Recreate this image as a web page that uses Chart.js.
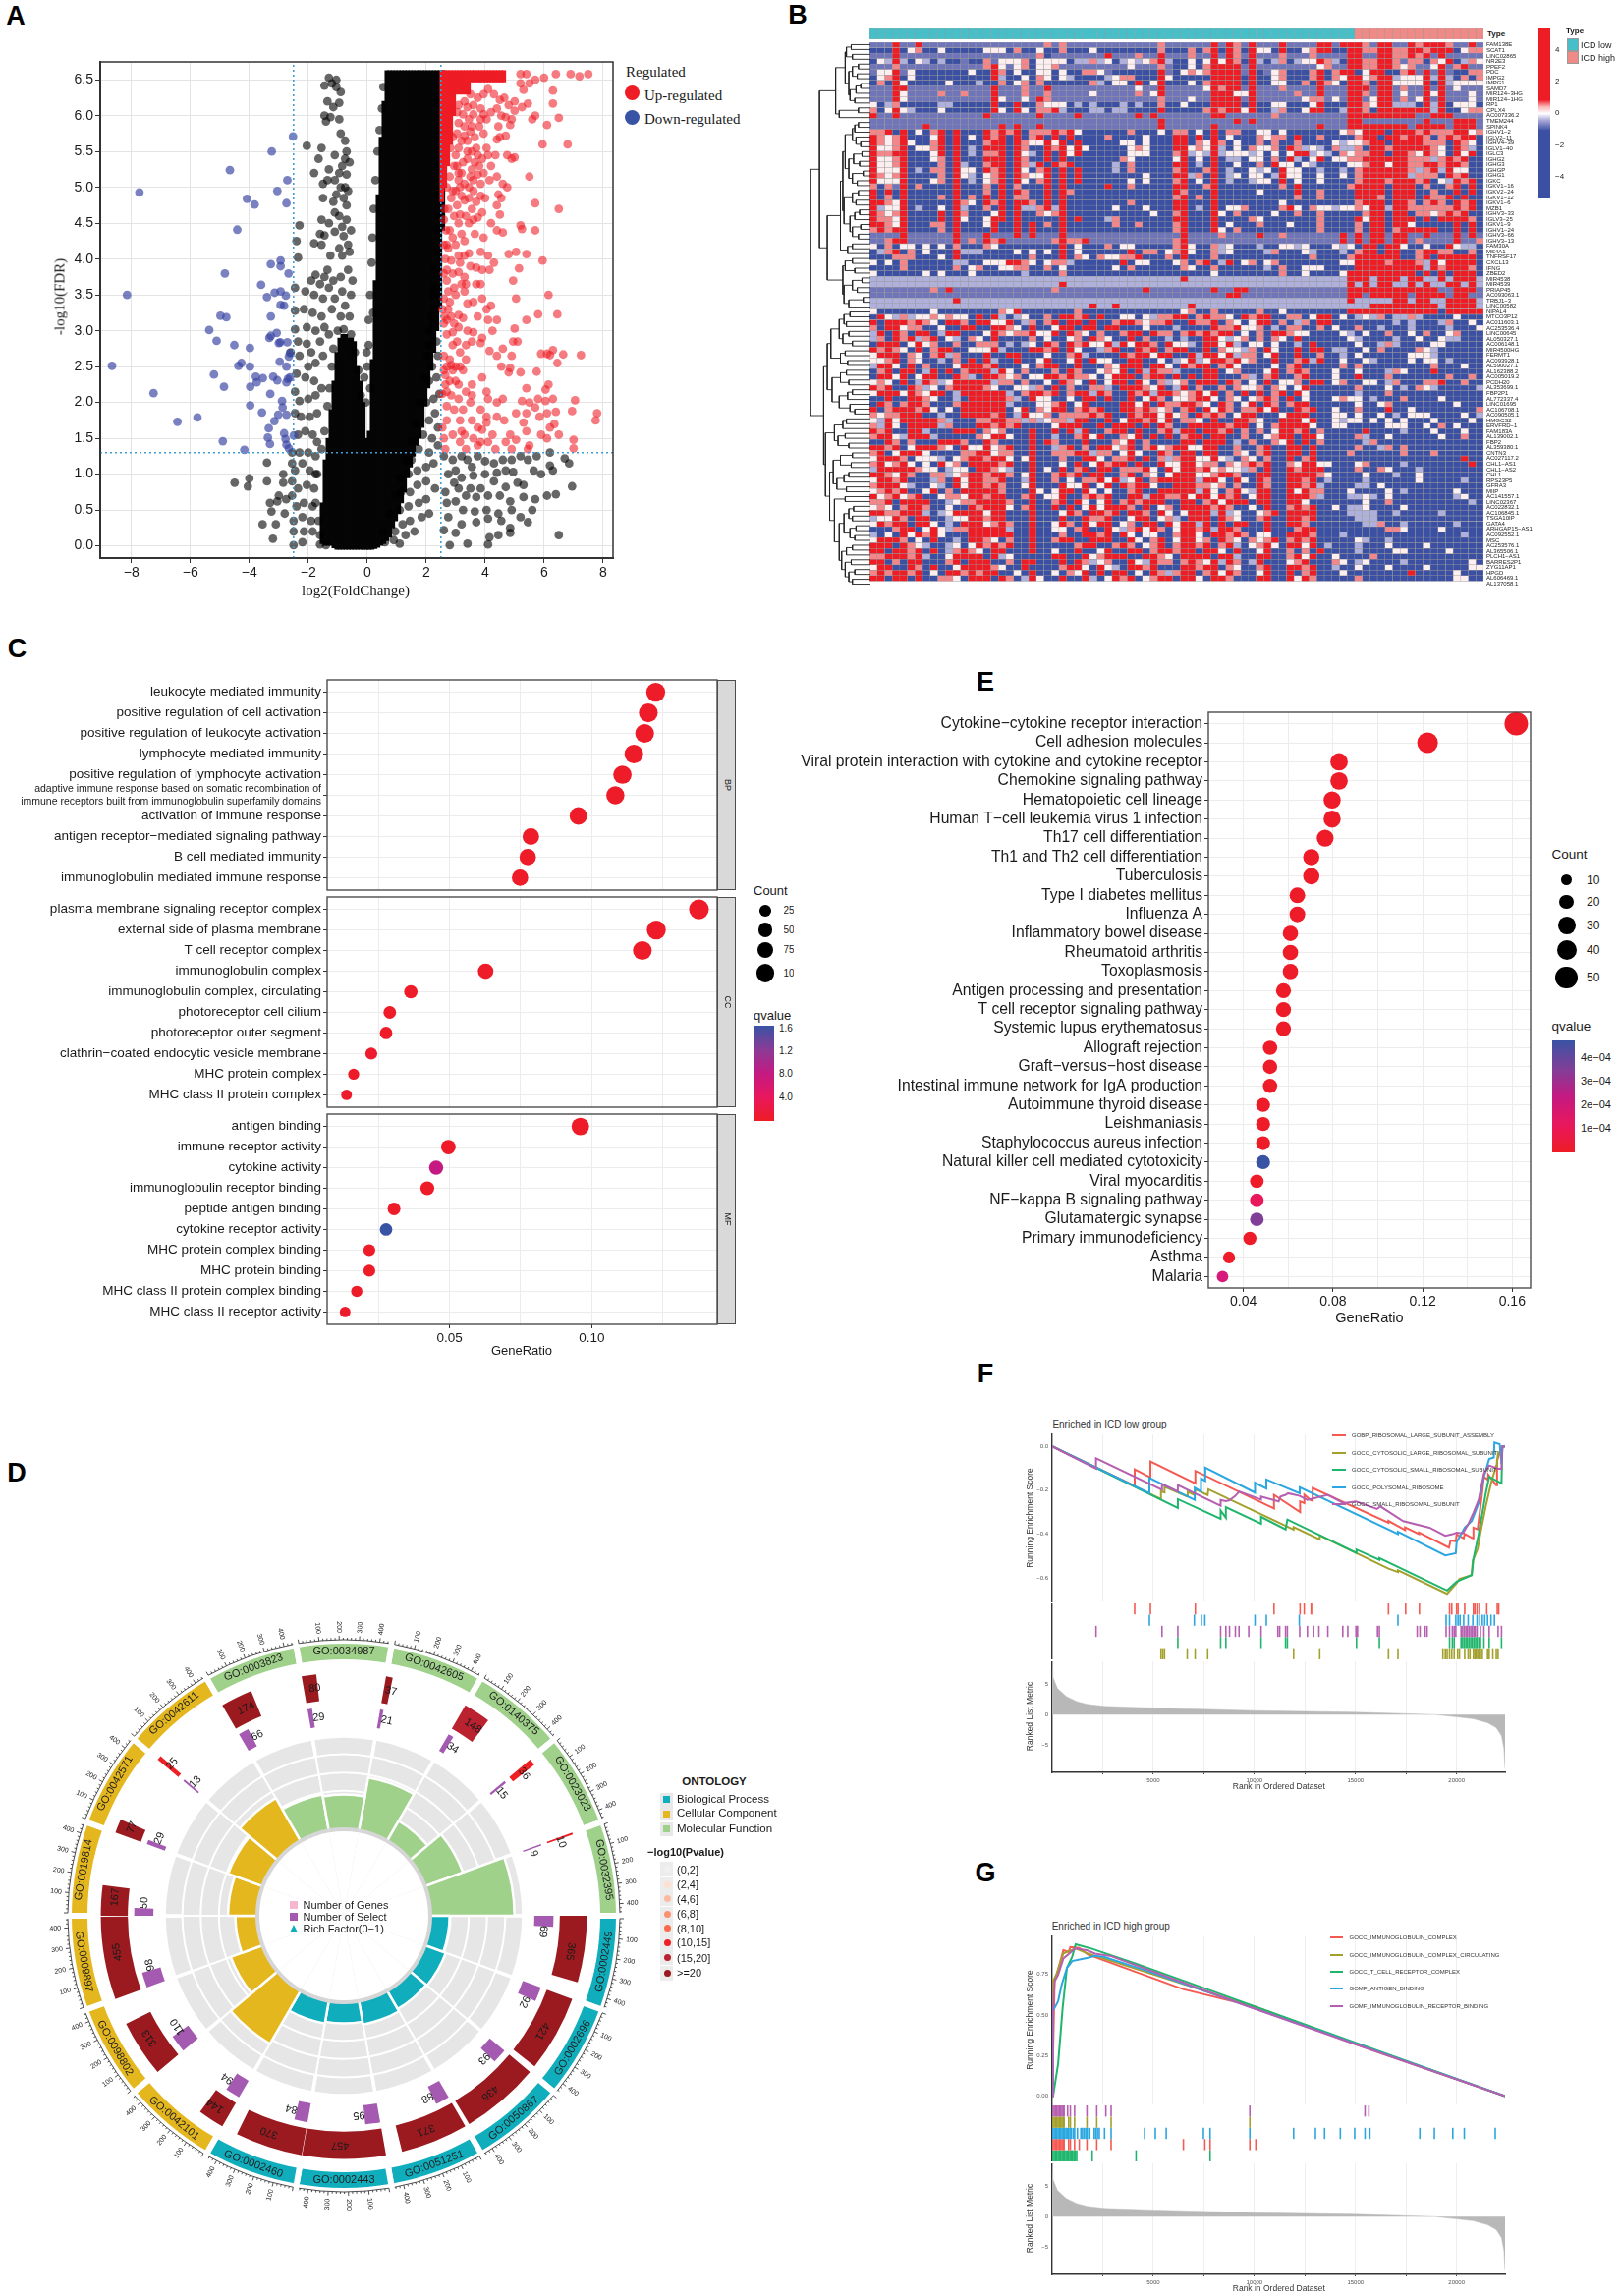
<!DOCTYPE html>
<html>
<head>
<meta charset="utf-8">
<title>ICD figure</title>
<script src="https://cdn.jsdelivr.net/npm/chart.js@4/dist/chart.umd.js"></script>
<style>
html, body { margin: 0; padding: 0; background: #fff; }
body { position: relative; width: 1649px; height: 2337px; overflow: hidden; font-family: "Liberation Sans", sans-serif; color: #1a1a1a; }
canvas { position: absolute; }
.t { position: absolute; white-space: nowrap; line-height: 1; }
.box { position: absolute; }
</style>
</head>
<body>
<script>
// ---------- panel A: volcano ----------
const volcanoUp = [[5.2,6.58],[5.4,6.58],[5.2,6.45],[5.5,6.45],[5.7,6.5],[6,6.53],[6.4,6.58],[6.9,6.58],[7.2,6.55],[7.5,6.58],[6.3,6.35],[5.3,6.36],[6.3,6.17],[6.5,5.97],[6.1,5.87],[5.7,6],[5.6,5.95],[5.45,6.17],[5.25,6.12],[5,6.07],[5,6.2],[4.8,6.15],[4.65,6.25],[4.5,6.22],[4.3,6.3],[4.1,6.37],[3.95,6.3],[3.75,6.25],[3.5,6.3],[5.95,5.6],[6.8,5.6],[5,5.42],[4.9,5.4],[4.75,5.45],[5.5,5.15],[5.7,4.78],[6.5,4.7],[5.2,4.47],[5.25,4.42],[5.7,4.4],[4.6,4.37],[4.4,4.4],[4.2,4.5],[5.4,4.07],[5.95,3.98],[5.05,4.1],[4.8,4.07],[5.15,3.87],[4.95,3.7],[6.15,3.5],[6.45,3.23],[5.05,3.45],[5.4,3.15],[5.8,3.23],[5,3.03],[4.95,2.85],[5.1,2.85],[6.45,2.55],
[6.3,2.73],[6.1,2.68],[5.9,2.68],[6.65,2.67],[7.25,2.66],[6.2,2.66],[4.9,2.65],[4.6,2.75],[4.4,2.65],[4.15,2.72],[4.85,2.48],[4.55,2.5],[4.8,2.42],[5.2,2.42],[5.75,2.43],[6.15,2.25],[6.05,2.18],[5.4,2.2],[5.25,2.02],[5.5,2],[5.8,2.05],[6.05,2.02],[6.3,2.05],[7.05,2.03],[6.4,1.87],[6.95,1.88],[7.8,1.85],[7.75,1.75],[5.7,1.93],[5.85,1.8],[6.1,1.85],[5.4,1.85],[5.05,1.85],[4.6,2.05],[4.4,2],[4.05,2.15],[4.1,2.05],[3.9,2.35],[3.55,2.25],[3.35,2.15],[3.1,2.25],[2.8,2.3],[2.7,2.15],
[2.55,2.12],[2.85,2.1],[3.1,2.05],[3.5,2],[3.85,1.9],[4.05,1.8],[4.05,1.72],[4.4,1.8],[4.65,1.75],[5.3,1.72],[5.4,1.6],[5.9,1.55],[6.2,1.65],[6.35,1.7],[6.5,1.55],[7,1.48],[7,1.36],[6.1,1.5],[5.5,1.4],[5.05,1.48],[4.85,1.55],[4.7,1.45],[4.25,1.55],[4.1,1.45],[3.9,1.62],[3.75,1.65],[3.55,1.75],[3.3,1.55],[3.15,1.45],[2.9,1.55],[2.7,1.75],[2.6,1.5],[2.55,1.65],[3.2,1.6],[3.75,1.4],[4.35,1.35],[4.9,1.35],[5.45,1.35],
[2.6,2.45],[2.7,2.5],[2.85,2.52],[3,2.5],[3.15,2.5],[2.65,2.38],[3.25,2.45],[3.35,2.6],[2.9,2.8],[3.05,2.85],[3.35,2.8],[3.55,2.85],[3.85,2.83],[3.9,2.9],[2.6,3.1],[2.7,3.15],[2.85,3.2],[2.95,3.1],[3.1,3.22],[3.25,3.18],[3.4,3],[3.6,2.98],[3.75,3.2],[4.05,3.3],[4.1,3.15],[4.25,3],[4.4,3.15],[4.2,3.35],[3.9,3.45],[3.6,3.4],[3.3,3.55],[3,3.5],[2.75,3.55],[2.6,3.45],[2.55,3.3],[3.35,3.65],[3.7,3.65],[3.85,3.65],
[2.7,3.85],[2.9,3.8],[3.1,3.82],[3.3,3.75],[3.5,3.9],[3.15,3.95],[2.85,3.98],[2.65,4],[3.45,4.08],[3.7,3.88],[3.9,3.85],[4.15,3.85],[4.3,3.95],[3.85,4.1],[4.1,4.05],[2.7,4.2],[3,4.2],[3.3,4.25],[3.65,4.35],[3.95,4.3],[2.8,4.4],[3.1,4.5],[3.45,4.5],[3.75,4.58],[2.6,4.55],[3.55,4.7],[3.9,4.65],[2.75,4.7],[3.05,4.75],[3.3,4.82],[3.7,4.8],[4,4.85],[4.4,4.75],[4.5,4.62],[4.55,4.85],
[3.15,5],[3.45,5],[3.6,5.1],[3.85,5.05],[4.15,5.1],[4.4,5.15],[4.6,5.05],[4.75,5],[4.45,4.9],[3.2,5.2],[3.55,5.25],[3.8,5.3],[3.95,5.2],[4.2,5.3],[4.35,5.45],[4.1,5.45],[4.05,5.55],[3.55,5.5],[3.25,5.35],[3,5.45],[3.4,5.65],[3.7,5.55],[3.9,5.4],[2.9,5.7],[3.2,5.65],[3.65,5.7],[3.95,5.75],[4.4,5.67],[4.5,5.7],[4.7,5.72],[4.85,5.87],[4.45,5.85],[4.05,5.95],[3.8,5.85],[3.45,5.95],[3.1,5.9],[4.55,6],[4.2,6.05],[3.85,6.1],[3.4,6.12],[3.1,6.15],[4.7,5.98],[4.9,5.95],[4.4,6.1],
[2.62,5.8],[2.65,5.4],[2.7,5],[2.62,4.7],[2.68,4.4],[2.75,4.15],[2.6,4.2],[2.7,3.7],[2.6,3.8],[2.8,3.4],[2.62,3.2],[2.7,2.95],[2.6,2.65],[2.8,2.6],[2.9,2.45],[2.95,5.3],[2.9,4.95],[3.1,5.2],[2.95,4.6],[3.2,4.35],
[3.3,6.2],[3.6,6.15],[3.05,6.05],[3.25,6.02],[3.6,6.02],[3.95,6.02],[3.3,5.85],[3.55,5.85],[3.85,5.95],[3.05,5.75],[3.3,5.72],[3.5,5.78],[3.1,5.55],[3.4,5.5],[3.75,5.45],[3.05,5.3],[3.4,5.4],[3.65,5.35],[3.1,5.1],[3.3,5.05],[3.5,5.15],[3.75,5.18],[3,4.95],[3.2,4.88],[3.45,4.85],[3.6,4.95],[3.85,4.88],[2.85,4.85],[2.8,5.15],[2.82,5.55],[3.15,4.62],[3.35,4.6],[3.6,4.55],[2.9,4.3],[3.1,4.05],[3.3,4.05],[2.95,3.6],[3.2,3.65],[3.4,3.38],[2.75,3.3],[2.9,2.98],[3.1,3.05],[3.15,2.7],[2.65,2.25],[3,2.3],[2.7,1.95],[2.95,1.9],[3.25,1.9],[3.55,2.1],[3.35,1.35],[3.6,1.5],[2.65,1.35],[3.15,1.75],[3.85,1.45]];
const volcanoDown = [[-2.52,5.71],[-3.24,5.5],[-4.66,5.24],[-7.73,4.93],[-2.71,5.1],[-3.05,4.95],[-4.08,4.84],[-3.82,4.76],[-2.74,4.78],[-4.41,4.41],[-3.27,3.93],[-2.94,3.98],[-2.94,3.9],[-4.83,3.8],[-2.67,3.8],[-3.6,3.64],[-3.14,3.53],[-2.94,3.55],[-3.4,3.47],[-2.76,3.49],[-8.15,3.5],[-2.94,3.36],[-2.82,3.35],[-4.98,3.21],[-4.78,3.19],[-3.27,3.2],[-5.36,3.01],[-5.11,2.86],[-3.07,2.97],[-3.27,2.93],[-3.32,2.9],[-3,2.83],[-2.95,2.84],[-2.71,2.84],[-4.51,2.8],[-3.98,2.76],[-2.62,2.69],[-2.66,2.64],[-8.66,2.51],[-4.27,2.55],[-4.37,2.51],[-3.98,2.5],[-2.97,2.57],[-2.74,2.5],[-5.2,2.39],[-3.78,2.36],[-3.54,2.34],[-3.19,2.36],[-3.75,2.28],[-3.05,2.31],[-2.74,2.28],[-2.62,2.35],[-2.69,2.33],[-4.86,2.22],[-3.97,2.22],[-7.25,2.13],[-3.29,2.12],[-2.89,2.02],[-3.97,1.96],[-2.87,1.93],[-3.57,1.86],[-3.02,1.83],[-2.74,1.83],[-5.76,1.79],[-6.44,1.73],[-3.15,1.74],[-3.34,1.64],[-2.82,1.57],[-2.49,1.54],[-3.37,1.51],[-2.77,1.49],[-4.9,1.46],[-3.3,1.42],[-2.74,1.41],[-4.17,1.34],[-2.66,1.36]];
const volcanoNs = [[-1.3,6.53],[-1.05,6.5],[-1.45,6.42],[-1.2,6.45],[-1.05,6.4],[-.9,6.33],[-1.35,6.2],[-1.15,6.12],[-.95,6.18],[-1.45,6],[-1.25,5.98],[-.95,5.95],[-1.4,5.92],[-.9,5.75],[-.75,5.65],[-1.55,5.55],[-2.05,5.58],[-1.65,5.4],[-.7,5.5],[-1.1,5.45],[-.75,5.4],[-.85,5.3],[-.6,5.35],[-1.3,5.25],[-1.8,5.2],[-1.35,5.1],[-1.5,5.05],[-.95,5.2],[-.7,5.18],[-1.1,5.1],[-.9,5],[-.75,5],[-1.05,4.9],[-.65,4.95],[-1.5,4.85],[-1.15,4.8],[-.8,4.85],[-.7,4.75],[-1.55,4.55],[-1.3,4.5],[-.95,4.6],[-.7,4.55],[-.85,4.45],[-1.1,4.65],[-.55,4.4],[-2.3,4.47],[-2.4,4.25],[-1.6,4.35],[-1.45,4.33],[-1.1,4.38],[-.8,4.32],[-.65,4.2],[-1.8,4.22],[-1.55,4.2],[-.95,4.15],[-1.25,4.05],[-.85,4.05],[-.6,4.1],[-2.35,4.02],[-1.35,3.85],[-1.45,3.75],[-1.75,3.78],[-1.9,3.7],[-1.15,3.7],[-.9,3.75],[-.65,3.85],[-.5,3.7],[-1.6,3.65],[-1.3,3.6],[-.85,3.55],[-.55,3.5],[-2.45,3.6],[-2.1,3.55],[-1.8,3.5],[-1.5,3.45],[-1.1,3.45],[-.75,3.35],
[-2.45,3.28],[-2.15,3.3],[-1.85,3.25],[-1.55,3.2],[-1.2,3.3],[-.9,3.2],[-.6,3.2],[-2.45,3.02],[-2.05,3.05],[-1.75,3],[-1.45,3.05],[-1.3,2.95],[-2.35,2.85],[-2.05,2.82],[-1.9,2.7],[-1.6,2.85],[-2.6,2.7],[-2.3,2.65],[-2,2.5],[-1.75,2.55],[-1.5,2.65],[-2.4,2.4],[-2.1,2.35],[-1.8,2.3],[-1.55,2.2],[-2.45,2.15],[-2.3,2.02],[-2,2.05],[-1.75,2.1],[-2.45,1.85],[-2.25,1.8],[-1.95,1.8],[-1.7,1.85],[-2.35,1.55],[-2.1,1.6],[-1.85,1.55],[-1.7,1.45],[-2.55,1.3],[-2.3,1.3],[-2,1.3],[-1.75,1.25],[-3.4,1.16],[-2.55,1.15],[-2.45,1.05],[-2.2,1.15],[-1.95,1.05],[-1.75,1],[-4.0,.94],[-2.85,1],[-4.5,.88],[-3.4,.9],[-4.05,.83],[-2.85,.88],[-2.55,.9],[-2.35,.8],[-2.05,.85],[-1.8,.8],[-3.0,.7],[-2.55,.7],[-3.3,.6],[-3.05,.62],[-2.75,.65],[-2.4,.55],[-2.15,.6],[-1.85,.55],[-3.25,.48],[-2.8,.45],[-2.5,.35],[-2.2,.4],[-1.9,.35],[-3.55,.3],[-3.1,.3],[-2.5,.2],[-2.15,.2],[-1.85,.2],[-3.2,.1],[-2.5,.01],[-2.2,.05],[-1.6,.02],[-1.4,.01],
[.2,3.25],[.05,2.8],[0,2.5],[-.1,2.35],[.1,2.2],[-.05,2],[2.4,4.4],[2.3,3.85],[2.25,3.5],[2.3,3.3],[2.25,3.1],[2.1,3],[2.35,2.85],[2.4,2.65],[2.05,2.65],[2.2,2.5],[2.35,2.35],[2.1,2.3],[2.45,2.12],[2.25,2.05],[2,2],[2.3,1.85],[2.1,1.75],[2.4,1.65],[2.2,1.5],[1.9,1.55],[2.4,1.4],[2.1,1.3],[1.75,1.35],[1.5,1.2],[2,1.1],[2.25,1.15],[1.7,1.05],[1.4,1],[2,.9],[1.7,.85],[2.3,.8],[1.45,.75],[1.15,.75],[2,.65],[1.75,.6],[1.4,.55],[1.1,.5],[2.1,.45],[1.85,.4],[1.45,.35],[1.2,.3],[.95,.2],[1.6,.2],[1.3,.15],[.9,.08],[.6,.05],[1.1,.03],
[2.6,1.25],[2.9,1.2],[3,1.05],[3.2,1.25],[3.4,1.2],[3.55,1.1],[3.75,1.25],[4,1.18],[4.3,1.15],[4.6,1.2],[4.9,1.2],[5.2,1.25],[5.45,1.2],[5.75,1.25],[6.2,1.3],[6.7,1.22],[6.85,1.15],[6.2,1.12],[6.3,1.05],[5.9,1],[5.65,1.05],[4.95,1.03],[4.7,1.05],[4.4,1.02],[4,1],[3.6,.98],[3.2,.95],[2.75,1.0],[2.95,.88],[2.65,.75],[3.1,.8],[3.5,.8],[3.85,.8],[4.3,.9],[4.7,.82],[5.1,.88],[5.3,.85],[6.95,.83],[6.4,.72],[6.1,.7],[5.7,.65],[5.3,.68],[4.85,.62],[4.5,.7],[4.1,.7],[3.7,.68],[3.35,.7],[3,.62],[2.7,.6],[3.25,.5],[3.65,.48],[4.05,.5],[4.45,.45],[4.9,.5],[5.2,.4],[5.6,.5],[5.45,.33],[4.85,.25],[4.55,.35],[4.1,.38],[3.7,.33],[3.2,.3],[2.75,.4],[2.6,.22],[3,.18],[4.15,.12],[4.45,.15],[4.85,.18],[3.4,.03],[2.8,.01],[4.1,.02],[6.5,.15],
[.55,6.4],[.5,6.1],[.42,5.8],[.35,5.5],[.28,5.1],[.22,4.7],[.18,4.3],[.15,3.95],[.1,3.5],[.05,3.15],[-.02,2.7],[2.42,6.2],[2.45,5.8],[2.45,5.3],[2.42,4.9],[2.4,4.6],[2.38,4.1],[2.3,3.6],[2.2,3.2],[2.1,2.8],[1.95,2.35],[1.8,2],[1.65,1.7],[1.5,1.45],[1.3,1.2],[1.1,.95],[.95,.7],[.75,.45],[.55,.2],[-1.7,1],[-1.75,.6],[-1.65,.35],[-1.6,.15],[-1.55,1.35],[-1.45,1.6],[-1.35,1.95],[-1.28,2.2],[-1.2,2.5],[-1.15,2.75],[-1,3],[-.8,3.02],[-.55,2.95],[-.42,2.7],[-.3,2.45],[-.22,2.1]];
const volcanoMassColumns = [[-1.6,.03,.6],[-1.5,0,1.2],[-1.4,0,1.5],[-1.3,0,1.9],[-1.2,-.03,2.3],[-1.1,-.05,2.7],[-1,-.05,2.9],[-.9,-.05,2.95],[-.8,-.05,2.95],[-.7,-.05,2.9],[-.6,-.05,2.9],[-.5,-.05,2.85],[-.4,-.05,2.5],[-.3,-.05,2.3],[-.2,-.05,2],[-.1,-.05,1.5],[0,-.05,1.6],[.1,-.05,2.6],[.2,-.04,3.7],[.3,-.02,4.9],[.4,0,5.7],[.5,.03,6.2],[.6,.07,6.63],[.7,.12,6.63],[.8,.25,6.63],[.9,.35,6.63],[1,.45,6.63],[1.1,.6,6.63],[1.2,.75,6.63],[1.3,.95,6.63],[1.4,1.1,6.63],[1.5,1.25,6.63],[1.6,1.4,6.63],[1.7,1.5,6.63],[1.8,1.65,6.63],[1.9,1.95,6.63],[2,2.2,6.63],[2.1,2.45,6.63],[2.2,2.7,6.63],[2.3,3,6.63],[2.4,3.3,6.63],[2.5,4.4,6.63]];
const volcanoUpColumns = [[2.6,4.8,6.63],[2.7,5,6.63],[2.8,5.3,6.63],[2.9,5.6,6.63],[3,6,6.63],[3.1,6.3,6.63],[3.2,6.3,6.63],[3.3,6.3,6.63],[3.4,6.3,6.63],[3.5,6.3,6.63],[3.6,6.47,6.63],[3.7,6.47,6.63],[3.8,6.47,6.63],[3.9,6.47,6.63],[4,6.47,6.63],[4.1,6.47,6.63],[4.2,6.47,6.63],[4.3,6.47,6.63],[4.4,6.47,6.63],[4.5,6.47,6.63],[4.6,6.47,6.63],[4.7,6.47,6.63]];
const volcanoXTicks = [-8,-6,-4,-2,0,2,4,6,8];
const volcanoYTicks = [0,.5,1,1.5,2,2.5,3,3.5,4,4.5,5,5.5,6,6.5];
const fdrCutoff = 1.3, foldCutoff = 2.5;

// ---------- panel B: heatmap ----------
const heatGenes = ['FAM138E','SCAT1','LINC02865','NR2E3','PPEF2','PDC','IMPG2','IMPG1','SAMD7','MIR124−3HG','MIR124−1HG','RP1','CPLX4','AC007336.2','TMEM244','SPINK4','IGHV1−2','IGLV2−11','IGHV4−39','IGLV1−40','IGLC3','IGHG2','IGHG3','IGHGP','IGHG1','IGKC','IGKV1−16','IGKV2−24','IGKV1−12','IGKV1−6','MZB1','IGHV3−33','IGLV3−25','IGKV1−9','IGHV1−24','IGHV3−66','IGHV3−13','FAM30A','MS4A1','TNFRSF17','CXCL13','IFNG','ZBED2','MIR4538','MIR4539','PRIAP45','AC093063.1','TRBJ1−3','LINC00582','NIPAL4','MTCO3P12','AC011603.1','AC253536.4','LINC00645','AL050327.1','AC006148.1','MIR4500HG','FERMT1','AC093928.1','AL590027.1','AL162388.2','AC005019.2','PCDH20','AL353699.1','FBP2P1','AL772337.4','LINC01695','AC106708.1','AC090505.1','HMGCS2','ERVFRD−1','FAM183A','AL139002.1','FBP2','AL359380.1','CNTN3','AC027117.2','CHL1−AS1','CHL1−AS2','CHL1','RPS23P5','GFRA3','MIIP','AC141557.1','LINC02367','AC022832.1','AC106845.1','TSGA10IP','GATA4','ARHGAP15−AS1','AC092552.1','MSC','AC253576.1','AL365506.1','PLCH1−AS1','BARRES2P1','ZYG11AP1','HPGD','AL606469.1','AL137058.1'];
// one letter per sample: r high, p salmon, w near zero, l pale, m mid, b low
const heatLevels = { r: 3.5, p: 1.2, w: .2, l: -.7, m: -1.5, b: -3 };
const heatRows = [
'mmmrmmrmmm mmmmmmmmmm mmmpmpmmmm mmmmmmmmpm mmmmmrmrpm rmmmrmmmmr rmrrrpmrrm mrprrrpmmrm',
'bbbrbwpbbw bbbbbwwwbp bbwbbpbbbw bbbbbbbbpb bbpbprbrpb rwwbrbbwpr rbbrrpprrp prrprrrbwpp',
'mmmrmmmmmm mmmmmmmmmm mmpbmmmmmm mrmmmpmmrm mmpmmrmrpm rmmmpmmmpm mmmrrmmrrp prprmrmmmmm',
'bwlrlbwlbl bbmbbpmwww pbwwwwbllp lwblwlwprl bbwbwrwrpb rlblpblwwr plbrrpprrp mppbpwrblpw',
'mmmpmmmmmm mmmmmprwmw pbwwpmmmmm mmmmwmmmpm bbwbprrrrm rmmmmmmmmw pmmrrpprrp wpmmwrmprmm',
'mwwrmwbbbb bbbwbbrpbw bbwwbwbbpp wmbbbbbbrm bwpwprrrrm rbmwpbbbpr bprrbwrrbb prmrmrmbbpp',
'bwprbwbbbb bbbbbbrlbb wbpwbwlbbb blwppbbbrw bbbbbrrrrb rbbwpbbbpr bpwrrwprrl wwwrlrlbpbp',
'bpbrwbbbbb wbbblbbpbw pbpbbbbbbp lbwwbrbwrb bbwbprrrrb rbbwwbbpbr pwbrrpbrrw wwwrbrlwwww',
'mmmrrmmmmm mmmmmmrmmm pmmrmmmmmm mmmmmwmmrm mmmmwrprrm rmmmpmmmmr mmmrrrmrrm pmmrmrmwmmm',
'mmmrwmmmmp mmpmmmrmmm pmmpmmmmmw mmmmmpmwrm mmmmmrrrww rmmmmmpmmr mmmrrpmrrm wmmrwrmmmwm',
'mmmrwmmmmm mmmmmmrwmm wmrpmmmmmm mmmmmmmmpm mmwmmrrrrm rmmmmmmwpp mwmrrmwrrm pmwrmrmmmwm',
'wblpbbbbbl lbbbbbrbbr bbpwwwblbl bbblblbbpb bwbbbrrrrb rbbwwbbbwr bbbrrpwrrl llbrlrbwwwb',
'pbwrwlbbbw bbbbbbrwbr wbpprlbbbl lbllbbbbrb bbbbprprrw rbblpbbwrr bblrrpbrrr rrrrlrbbwpp',
'rmmrmmmmmm mmmmmrmmmm mmrmmmmrmm mmmmmrmrmm mmmmmrrmmm mmmpmmmmmm mmmrrrrrrr rrmmrrrmmmm',
'mmmmmmmmmm mmmmmmmmmm mmmmmmmmmm mmmmmmmmrm mmmmmmmmrm rmmmmmmmmm mmmrrmmmmm mmmrmmmrrrm',
'mmmmmmmrmm mmmmmmmrmr mmrmmmmmmm mmmmmmmmrm mmmmmrmmmm mmmmmmmmmr mmmrrrrrrr rmrrrrmrrrm',
'pprbrbwbpr brbbbrprpr bppprprwbb bbbbpbbbwb ppbwbrbppb bwwbwbbbbb bbwpwrrrbr rrprppprrwp',
'rpwprbbbwr brbwbrprbr bprbrbrbbb bpbbbbwbbb rrbrbrbwbb bpwppbrbbp bbbbprrbrr prrpbprprrb',
'rpwprwbbpr brbbbprrbr pwwrwrbrbb bbbwwbwbbb rrbpwrpbwb bpbpbbpbbb bwlwwprrbr rrrpppbrpwb',
'rwwprbwwpr brblbrrrbr pbbrprwrwb bbbbwpwbbb rrwpwrlbwb pwwpbrplwl bpllpbrrpr rrrrpwbrplb',
'rpprrbbbwr brblbpprbr wlbrbrwrbb bbbbwwwbbb prlwlrlwww lwbwbwrrlw lbpwpprrbr rpwrpwbrwrb',
'rwwprbbbwp brbbbrrrbr pbbrbrbbbb bbbpwbbbbb wrbwbrbllb wwbpbrlbwr bwwpprrrrr rppplprprbb',
'rwwprbbbbp brlbbprrbr plrbrprbbb bblbpbbbbb rrblbrbbwb bpbrwwbwlb bbbwwprrwr rpprrprrpbb',
'rwwwrblbpp brwwbrprbr wbprbrbrbb bblbpbbbbb prbbprblbb wlwbrwwbbl bblbprrrrr rplprlrwwbb',
'rpwprbbbbp brwlbwprbr pwwrbrbrbb bbbbbbwbbb rrlpbrblwb wwblrwwbbw bbwbprrrrr rlpppbrprbb',
'rwwwrbbbwp brblbwprbr wbprbrbrbb bbbbwbwbbb prbwbrblbb lwwbrbwbbw bbbbprrrpr rrprbwlrprb',
'pbpmrbpbbb brbbbpbrbp bbbrbrbbbb brbbpbbbbb rrbbprbbbb bbbbpbrbbb bbbprrrrbr rrbpbbprbrb',
'rbrbrbbbbb brbbbpbrbr pbbrbrpbbb bbbbbbbbbb rpbbbrbbbb bwbbbbrbbp bbbbrrrrbr rrbbpbbrbrb',
'rbpbrbbbbp brbpbrbrbp pbbrbrbbbb bbbbbbbbbb prbpbrbbbb bbbbbbpbbp bbbbrrrpbr rrbrpprbrbb',
'rrpwrbbbbb brpwbrprbr rpbrbrbbbb bbbbpbbbbb rrbbbrbbbb bbbbwbbbbb bbbbprrrbr rpbprpbrprb',
'rlwwrblbbw brlbbpbrbr llprlrbbbb bbwbbbwbbb rrblbrbwwp bbbbprwbpw wlwwpwrrlr rpppppprprb',
'rpwprbbbbr brpbbbwrbr bbpwprbbbb bbbbbbbwbb prbbbrwbpb bbbwbbpbbp bbbbbprrbr rbppwprprbb',
'rppwrbbbbr brwbbwrrbr bbbbbrbrbb blpbbbbbbb rrbbbrbbbb pwbbbbbbbp bbbbrwrrbr rrbrbrrrrpb',
'rrpwrbbbpp brbbbwrbbr brbpbrbbbb bbpbbpbbbb prbbbrbwbb bpbbbwbbbp bbbbpbrrbr rwbbbbbrbrb',
'prprrbbbbp brbbbbrbbr brbbbrbbbb bbbbbbbbbb prbbbrwbpb bbbbbbbbbp bbbbpbrrbp rrrrrbbrbrb',
'mmmmrmmmmm mrmmmrmmmr mrmmmrmmmm mmmmmmmmmm mrmmmmpmmm mrmmpmmmmm mmrmrmrrmr rmmrmmmrmrm',
'mmprrmmmmm mrmpmrprmm mmmmprpprm mmmmmmmmmm prmmmmmmmm mmmmmmmmmm mmrmrmrrmr rmpmmmmrmmp',
'wbpbwwbwbw bpbbbpwbbb bbbbbrbwbb bpbwwbbbbb prwbbplwbb blbbwwlwbb bwlwbrrbrr wbbwbbrwllb',
'blprbpbwbb brlllbbbbw bwbwbrbwbb bbbbrbppbw prwbbplwbb bblpbbbwlb bblbprrbrr bbprrppbbpb',
'bbbpppbbbw brbbbbbbbb bpbbbrbpwb pwwpprbbbp brbbbpbbbb bbbbbbbbpb bbbprrrrrr bbprbrrrrrb',
'wbwbpbbbbb bllbbwwwrr pwbwpplbbb bbbrbwwbbb wpbprblrbw pbwpbbbbbb bbwwrrrrpr rrplrwrrrrb',
'bbbbpbbbbb bpbwpbbwwp pbbpbwbbbb bbwbpbbbbb bpwbbpbbbb bblbpbbwww bbbbrrrrrr rrrlrprrrpb',
'wbbbbbbwbw bbbwbbbbbb lbbbbpbbbb bbbbbbbbbb bbbbbwbbbb bbbbpbbwbb bbwrrrrrrr rrbrbrbrrrb',
'llllllllll llllllllll llllllllll llllllllll lrllllllll llllllllll lllrrrlrrr lrrllrlrrrl',
'llllllllll llllllllll lllllrllll llllllllll llllllllll llllllllll lllrlrlrrl lrlrllrrlrl',
'mmmmmmmmpm rmmmmmmmmm mmmmpmmmmm mmmmmmrmmm mmmmmrmmrr mmmmmmmmmm mmmrrrrrrr rrrrrmmrrrm',
'mmmmmmmmmm mmmmmmmmmm mmmmmmmmmm mmmmmmmmmm mmmmmmmrrm mmmmmmmmmm mmmrrmrrrr rmrrrrmrrmm',
'llllllllll lrllllllll llllllllll llllllllll llllllllll llllllllll lllrlllllr rlrrllrrrrl',
'llllllllll llllllllll lllllllllr llrlllllll llrlllllll llllllllll llllllrrrr rrrrrlrrrrl',
'wbbbbbbbwb bbbbbbbpwr bbbbbbbpbb bbbbbbbbbb bwpbbpbbbb bpbbwbbbbb bbbrrrrrrr rrrrrbrrrrr',
'brwlplwwpw pwwbrbrlbl wbbpbrrprb rbbwwbwlpp rrbprppwbr prrbbppbwr rbwblwlpbl lplbbbbwbbb',
'rbrrrprpwb rrpbrrwwrb lpbprbrrbr bbprrpwppr bbrpprbpwb wrrbpblpbr rbbbbbbbbl blbbblpbbwb',
'pbrrwppbbw bbrrbbrrpw brbbwrrbrr brrbbbwbbb lbbbbrpprw wpblbppbbp bwbbpbblbb blbbbblbbbw',
'lrbrpbrrbl rrbbbwrpwp prwwrbrpwb pbbprrbrpp bprprprrbw bpbrrpwwbb bbwlbwbbpb bwbpbbwpbbb',
'lpbrprlprb wlbpwbrbbb bpbwbbwpbr pwbbrbpbbl blbbrrwlwp bpbpwbrbbb bbbwlbbbbl bbwbbwllbbb',
'brrrbwrwpb bpbbpppblb lwbrpbrprw wrlrwrrpbr wwlbrrwrlb wwbwbblbrb bbbbwbblpl bbbbwwbbbbb',
'rprpwbrbpr rbbwwwrlbb brrprbrwbb lprbbrprbp rrbbrbpwwl pbrwbbrbrr bllbbwbpbb bbpwlbbbbbb',
'wrrrbpwbpr lpbbbrbbrr bbbwbbprlb bbbrprrwrr bbrlrrwrlp pbwrbbrbbp bblbwbbbbb bwwwlbbbbbb',
'wwprbpwbbl bpbrbrlbbr bbwrbbwrbr wwbbrrbbwb lwrlwrrprw pbbrbbprlr bbwbbwlbbb bwbwwblbbbb',
'lrrwbrbpbb bwrrrprbbb wbprrbbrbb bpwrrrbrrw brprrbprwb bbbwbprbbb bbpbpbbbbb bbbbpbbbwbb',
'bprbrrblrb rbprrrlrwb pbbbpbrpbb wpwrbrlrpp lbbbrrbwpb bbwrbprpbb bwbbwbbblp wbbbrbbbbbb',
'brrwrbwrrb brplbrrpwp bwwrrprppw bwrrrbprrb rbrbrrbbbp lbprbbprbb bwbbrbbbpb bbbbbbpbbpb',
'wpwbrblrpl wrrrrrlppb pbbwbrpwbr bwrrbrwbpl wpbrrrbrpb wbrbwwpbrr bwpbbwwblp bbbpprbbpbb',
'rprbbrplwb prrrrpwbbw wlpbrbpbbp plbrrrpwrb lrbpbbpbpw wpbpwbwrbb bbbbpbbbwb lbpwlbbbbbl',
'wrrrwrpwrr blrrrrrrlb prrprbprrl rpbbrprlrr pwprwrbpbr brbprbrwbb bbbblbbbpb bbbbbbbbbbb',
'bbrbbrrpwb blbrrrrrpl brwwbbwbrr brbbrbwrpb wwprrwbpwb wprpbrbwbb bwpwwblbbb pbbbbwbbbbb',
'brpbprrpbb bprrrrrrlb bbwwprbwrb bbbrrwrbrp prrpwbrpbw rbrpbprrbb bbbbwbbwpb bbbbbbbwbbb',
'rbprrrprwb wbrrrrrrbw rbpwrrbprp rbbrrprpwp bprbrwrpbp prwrbbrprb bwbbpbbbrb bwbbbbbbbbp',
'pwpprrrbbl bbrrrrprbl rwwpbppppr prbbrprrwr wpbrprpbwr rbbbwrrrbb bwwbwbbwbl bwwwbbbbwbl',
'wlrwrrrrrp lbbbpprrpp lplwpplrrb brbwrrprwr bppwbrbbrr pwbbrrrwrb bwlwwbwbwb wbbbwbbbbwb',
'plrwbrrrrl pbbbrrprpr bbbbwrrrbb rbrrrbrbrp bbrrrrrprr bwbprrrrwb bwwbbbbbww wbbwbpbwbbb',
'rprbbrrlbb brrrbpwpbb brbbrbrlrb bprrbrbbpr lrrbrrprbp bpbwrrprbp bbbbbrbbbb lbbbwbbbwbb',
'prrwlrrrlb bbbbpwrrwb brbblbbprw rbbpwrbrbr bprrbrrbbp bbwprrbrrw bbbbplbbwb bbbbbwbbpbb',
'bbrpbpbbbr rrpbbrpbbb brbrpbbbrb bbpwrbpbbb brrbrrrblb pbbpwrbrbp bbbbblpbbb bbbbbbbbbbb',
'rrprbwrrrp wbrwwrwprb brbblprbpb rrwprbprwp rrwwrrbbpb bprbbrrbrb bbbbpbblpb pbbbbbbbbbb',
'prbwrrrwbb bbpprrwppb brbbppprrl ppbwrwbbrp brrbrrbbpw bprbbrrbrb bbbpbbbbbb pbbbpbbbbbb',
'wrrrpbwwwl bwprrprrwb wrbbbpbbrr wbpprbrbpl prrwwrwlbp wbpbbrbprb bbbbbbbbbb bbbbbbbbrbb',
'prwprwbwbr wpbrrrrprb brbbbwbrbw rprrbrbbrw wrrwppbpwp rprbbpwrrw wbbbwpbbbb lbbbbbbbbrb',
'lrrrrrpwwb lwwbrrpwlb brbwbrbprb rrbppprwbr wrrprwpwwl pbrbbrprrr bbbbpbbpwb bblbbbbbbbb',
'rrpwrpbbpp lwprrprrpb wrbbprprbr rbbprbpwbw rrrwwprrpb brrbbrrrrp wbbbbwbbbl bbwbbbbbbbb',
'wrrprbbblp brwrrpprbb lrbbpbwbpp rwrlwrbprr rrrlrrwbrw brpbbrrprb lbbbblbbbb bbwbbbbblbb',
'prrrwlbbwl brwrrprpbb wrbbbrwwrb wrbrprrwbb rrrppwpbpb brpbbrrprl bbbbllbwbb bbbbbbbbbbb',
'wprprbbwrb pbrrrrrpbb brwbwrrbrw bwbbprbbrr rrrlrwbprw lrrbbrwrpp bbbwbbbbwb lbbbbbbwbbb',
'rwprwprbbw ppwrrprrbb prbwwrbbpr prbbrrlrrp prwrrwrprb wrrbbrrrpl bbbllwlbwb bbbbbbblwbb',
'pprbrrrrbb lwpprrrrpb brbbprbrwb wrbprprrrb brrbprwrrr brrbbrrwbb bbbbbwbbpb bbbbbbbbblb',
'wpwbprrpbb wbbrprrrwb prbbrbrbwr wrrrpbrbwp brrrrprpbb wbrbbprprb bwbllwbbbb wbbbbbbbbbb',
'rrpprrrlbl wrrrrwrrbb brbbbwrpbr rprbrrpbrw bwrrrlrlwb bwprbrrrrb bbbllllbbl bbbbblbbbbb',
'lwwrpbrrbb lwwrrprrbb brbbbrbbrp prbbwrrbwp lbrrrbrpwb bprbbrrprb bbbblllbbb bbbbbbbbbbb',
'wrprrbrrwb lbrrrwprpb brbbwrpbrw rrbwpbrrbr wrrlrbrbrr bbrbbrrpbb bbbbbllpbb lbbbbbblbbb',
'bbbprrbwrw lpprrrrrlb brbbwwbprb brwlprwrpb wrrprlrrpb bbrbbbprrb bbbbbbbbpp wbbbbwbbbbb',
'lbwbrwrprw bbbrrrrrrb brbbbpbbrr prbrwbwwbb prrwbrrprp bwwbbrrrpb bblbbbbbbb bbbbbbbblbb',
'wrrrpbwbrb blbrrpwbpb brbbprrbbr rrbbrwbprb wrrwpbrpwb pwprbprprb bbbbwlbblb bbbbbbbbbbb',
'rrrbrpwlbb lwbwrprprb brbbbbbprr bbprpbwprb prrprbprlb wprwbrrwrb lbbblbbbwb bbbwbbbbbbb',
'rrbrrprbrb lprpwbrrbb brbbwbbrbb wrbbrrbprr prrbrrwbrb bwrbbpbpbr bbbblbbbbw wbbbbbwbbbb',
'pprrrprlbb wrrrrbrlwb bbbbrrbbrw prrrbbrrpw brrrrbrrlb brrbbprwrb bwbbbbpbbb bbbbbbbbbbb',
'rrbpbrrbbb prbrrrbbpb rrbbbrbrpl wpbbrwlrpp bprpwrlrpb lrbbbwprbb bpwblwbbbb lbbbbbbbbwb',
'wrrbbrpbrb bwrrrrpwbb rbbbbprrwb rwlbrrprbb brrprrbpwb bprbbrrprb blbbwbbbwb bbbwbbbbbww',
'prprrprbwb rrprprrbbw brbbwbpwrb rbrrbwbrpl prrbprwrpb bwrbbrbprb bbwbbbbbbb brbbbbbwbbb',
'rrbrrbrbbp pwbrrrbrpb lrwbbrbbrl bwrprbwprr brrwbrrpbb brrbbrwrpb bbbbpbbbbb bbbbbbbwwbb'
];
const heatLowCount = 64, heatHighCount = 17;
// dendrogram as nested [height, left, right]; a bare 0 is one row
const dendroTree = [1,
  [.85,
    [.58,
      [.42,[.4,[.32,0,0],[.3,0,0]],[.36,[.3,[.2,0,0],[.22,0,0]],[.34,[.24,[.16,0,0],0],[.26,0,0]]]],
      [.52,[.2,0,0],0]
    ],
    [.72,
      [.5,
        [.46,
          [.42,[.3,[.26,[.2,0,0],0],[.24,0,[.16,0,0]]],[.36,[.28,[.14,0,0],[.18,0,0]],[.3,[.12,0,0],[.22,0,0]]]],
          [.44,[.3,[.2,0,0],[.24,0,0]],[.34,[.26,[.18,0,0],0],[.3,[.16,0,0],[.2,0,0]]]]
        ],
        [.38,[.3,0,0],0]
      ],
      [.46,[.42,[.3,0,0],[.26,0,0]],[.44,[.3,[.14,0,0],[.22,0,0]],[.36,[.12,0,0],0]]]
    ]
  ],
  [.78,
    [.72,
      [.66,[.52,[.44,[.34,0,0],[.4,0,0]],[.46,[.36,0,0],[.3,0,0]]],[.5,[.42,0,0],[.38,0,0]]],
      [.64,[.5,[.4,0,0],[.36,0,0]],[.52,[.38,[.3,0,0],0],[.34,0,[.26,0,0]]]]
    ],
    [.75,
      [.6,[.46,[.4,0,0],0],[.54,[.42,0,0],[.36,0,0]]],
      [.68,
        [.62,[.5,[.3,0,0],[.32,0,0]],[.56,[.44,[.36,0,0],0],[.4,0,0]]],
        [.6,
          [.42,0,0],
          [.52,[.44,[.36,[.28,0,0],[.3,0,0]],[.34,[.24,0,0],[.26,0,0]]],[.48,[.4,[.3,0,0],0],[.42,[.32,0,0],[.36,[.26,0,0],[.3,0,0]]]]]
        ]
      ]
    ]
  ]
];

// ---------- panel C: GO dot plot ----------
const goBpTerms = ['leukocyte mediated immunity','positive regulation of cell activation','positive regulation of leukocyte activation','lymphocyte mediated immunity','positive regulation of lymphocyte activation',['adaptive immune response based on somatic recombination of','immune receptors built from immunoglobulin superfamily domains'],'activation of immune response','antigen receptor−mediated signaling pathway','B cell mediated immunity','immunoglobulin mediated immune response'];
const goBpRatio = [.1225,.1199,.1186,.1148,.1108,.1083,.0953,.0786,.0775,.0748];
const goBpCount = [93,91,90,87,84,82,72,60,59,57];
const goBpQ = [.01,.01,.01,.01,.01,.01,.01,.01,.01,.01];
const goCcTerms = ['plasma membrane signaling receptor complex','external side of plasma membrane','T cell receptor complex','immunoglobulin complex','immunoglobulin complex, circulating','photoreceptor cell cilium','photoreceptor outer segment','clathrin−coated endocytic vesicle membrane','MHC protein complex','MHC class II protein complex'];
const goCcRatio = [.1377,.1227,.1178,.0627,.0364,.029,.0277,.0225,.0163,.0138];
const goCcCount = [105,93,90,48,28,22,21,17,12,10];
const goCcQ = [.01,.01,.01,.01,.01,.01,.01,.03,.01,.02];
const goMfTerms = ['antigen binding','immune receptor activity','cytokine activity','immunoglobulin receptor binding','peptide antigen binding','cytokine receptor activity','MHC protein complex binding','MHC protein binding','MHC class II protein complex binding','MHC class II receptor activity'];
const goMfRatio = [.096,.0496,.0453,.0422,.0305,.0277,.0218,.0218,.0174,.0133];
const goMfCount = [73,38,34,32,23,21,17,17,13,10];
const goMfQ = [.01,.01,.6,.01,.01,1,.01,.01,.02,.02];
const goCountLegend = [25,50,75,100];
const goXTicks = [.025,.05,.075,.1,.125];

// ---------- panel E: KEGG dot plot ----------
const keggTerms = ['Cytokine−cytokine receptor interaction','Cell adhesion molecules','Viral protein interaction with cytokine and cytokine receptor','Chemokine signaling pathway','Hematopoietic cell lineage','Human T−cell leukemia virus 1 infection','Th17 cell differentiation','Th1 and Th2 cell differentiation','Tuberculosis','Type I diabetes mellitus','Influenza A','Inflammatory bowel disease','Rheumatoid arthritis','Toxoplasmosis','Antigen processing and presentation','T cell receptor signaling pathway','Systemic lupus erythematosus','Allograft rejection','Graft−versus−host disease','Intestinal immune network for IgA production','Autoimmune thyroid disease','Leishmaniasis','Staphylococcus aureus infection','Natural killer cell mediated cytotoxicity','Viral myocarditis','NF−kappa B signaling pathway','Glutamatergic synapse','Primary immunodeficiency','Asthma','Malaria'];
const keggRatio = [.1618,.1222,.0827,.0827,.0796,.0796,.0765,.0703,.0703,.0641,.0641,.061,.061,.061,.0579,.0579,.0579,.0519,.0519,.0519,.0488,.0488,.0488,.0488,.046,.046,.046,.0429,.0336,.0307];
const keggCount = [53,40,27,27,26,26,25,23,23,21,21,20,20,20,19,19,19,17,17,17,16,16,16,16,15,15,15,14,11,10];
const keggQ = [.01,.01,.01,.01,.01,.01,.01,.01,.01,.01,.01,.01,.01,.01,.01,.01,.01,.01,.01,.01,.01,.01,.01,1,.01,.2,.75,.01,.01,.42];
const keggCountLegend = [10,20,30,40,50];
const keggXTicks = [.04,.06,.08,.1,.12,.14,.16];

// ---------- panel D: GO circle ----------
const circleTerms = ['GO:0042605','GO:0140375','GO:0023023','GO:0032395','GO:0002449','GO:0002696','GO:0050867','GO:0051251','GO:0002443','GO:0002460','GO:0042101','GO:0098802','GO:0009897','GO:0019814','GO:0042571','GO:0042611','GO:0003823','GO:0034987'];
const circleOntology = ['MF','MF','MF','MF','BP','BP','BP','BP','BP','BP','CC','CC','CC','CC','CC','CC','MF','MF'];
const circleGenes = [37,148,36,10,365,421,436,371,457,370,144,313,455,167,77,25,174,80];
const circleSelect = [21,34,15,9,69,92,93,88,95,84,94,110,98,50,29,13,66,29];
const circleRich = [.57,.23,.42,.9,.19,.22,.21,.24,.21,.23,.65,.35,.22,.3,.38,.52,.38,.36];
const circlePBin = [7,6,5,5,7,7,7,7,7,7,7,7,7,7,7,5,7,7];
const circleAxisTicks = [100,200,300,400];
const pBinLabels = ['(0,2]','(2,4]','(4,6]','(6,8]','(8,10]','(10,15]','(15,20]','>=20'];

// ---------- panels F and G: GSEA ----------
const lowRed = [[0,0],[4080,-.18],[4080,-.105],[4860,-.142],[4860,-.069],[7080,-.169],[7080,-.112],[10970,-.283],[10970,-.221],[12260,-.3],[12260,-.251],[12470,-.259],[12470,-.221],[12760,-.244],[12880,-.248],[12880,-.19],[16630,-.349],[16630,-.34],[17450,-.382],[17450,-.37],[18140,-.4],[18140,-.393],[19620,-.462],[19700,-.43],[19960,-.434],[20000,-.402],[20350,-.42],[20400,-.4],[20800,-.42],[20830,-.371],[21040,-.379],[21140,-.304],[21260,-.214],[21350,-.139],[21530,-.151],[21560,-.129],[21960,-.177],[22000,-.064],[22220,-.004],[22395,0]];
const lowOlive = [[0,0],[5380,-.241],[5380,-.206],[5555,-.211],[5555,-.184],[6680,-.229],[6700,-.207],[7040,-.222],[7080,-.196],[7690,-.222],[7725,-.196],[11940,-.38],[11940,-.368],[13230,-.425],[13230,-.407],[16630,-.558],[17100,-.574],[17100,-.566],[19530,-.673],[20000,-.625],[20140,-.605],[20745,-.588],[20800,-.521],[21040,-.468],[21180,-.394],[21440,-.274],[21700,-.169],[21960,-.087],[22000,-.072],[22050,-.027],[22240,-.027],[22260,0],[22395,0]];
const lowGreen = [[0,0],[6215,-.281],[6215,-.241],[8330,-.331],[8330,-.292],[8590,-.326],[8590,-.277],[10330,-.353],[10330,-.322],[11545,-.379],[11630,-.334],[15050,-.486],[15050,-.471],[16180,-.518],[16180,-.51],[19530,-.658],[20000,-.618],[20745,-.588],[20830,-.513],[21090,-.401],[21440,-.214],[21610,-.139],[22220,-.169],[22260,0],[22395,0]];
const lowBlue = [[0,0],[4810,-.214],[4810,-.144],[7050,-.244],[7050,-.189],[7360,-.206],[7360,-.147],[7570,-.157],[7570,-.097],[10030,-.211],[10030,-.166],[10590,-.192],[10590,-.151],[12240,-.214],[12240,-.187],[17100,-.4],[17100,-.39],[19440,-.498],[19960,-.488],[20000,-.438],[20400,-.371],[20745,-.341],[21090,-.259],[21350,-.139],[21610,-.057],[21840,-.05],[21870,.018],[22130,.01],[22220,-.079],[22270,0],[22395,0]];
const lowPurple = [[0,0],[2170,-.102],[2170,-.054],[5430,-.198],[5430,-.172],[6215,-.206],[6215,-.177],[8330,-.271],[8330,-.245],[8590,-.25],[8770,-.246],[9060,-.226],[9250,-.206],[10330,-.243],[10330,-.229],[11200,-.251],[11290,-.229],[11545,-.221],[11665,-.214],[12240,-.226],[12620,-.244],[13630,-.221],[14410,-.259],[15020,-.251],[16060,-.286],[16230,-.274],[17360,-.341],[18660,-.371],[19440,-.408],[19790,-.401],[20000,-.394],[20310,-.397],[20570,-.356],[20830,-.304],[21090,-.244],[21350,-.124],[21610,-.087],[22050,-.102],[22220,-.102],[22260,0],[22395,0]];
const highRed = [[0,0],[35,.2],[120,.707],[243,.758],[555,.9],[815,.89],[900,.92],[1340,.914],[1770,.873],[6460,.66],[10070,.55],[15000,.32],[22395,0]];
const highOlive = [[0,0],[35,.707],[210,.75],[555,.88],[1160,.91],[1770,.88],[9760,.56],[15000,.325],[22395,0]];
const highGreen = [[0,0],[60,.01],[295,.2],[520,.546],[730,.79],[990,.86],[1160,.936],[1945,.91],[4130,.817],[7850,.651],[15000,.33],[22395,0]];
const highBlue = [[0,0],[35,.525],[295,.586],[470,.687],[730,.79],[990,.833],[1770,.853],[2120,.865],[2550,.859],[4550,.778],[15000,.323],[22395,0]];
const highPurple = [[0,0],[35,.525],[120,.707],[295,.748],[555,.849],[900,.885],[1110,.91],[1720,.9],[2120,.879],[2920,.863],[9760,.55],[15450,.3],[22395,0]];
const lowRugRed = [4080,4860,7080,10970,12260,12465,12810,12880,16630,17480,18160,19650,19760,20000,20070,20400,20830,20900,21010,21130,21490,22010,22080];
const lowRugBlue = [4810,7030,7380,7550,10030,10590,12220,17100,19480,19650,19960,20070,20170,20350,20570,20800,21010,21140,21270,21390,21530,21700,21870];
const lowRugPurple = [2170,5430,6215,8330,8590,8770,9060,9240,9720,10330,11160,11250,11540,11630,12240,12620,12930,13190,13630,14370,14620,15020,15100,16090,16180,18050,18190,18440,18540,19480,19650,19790,19880,19960,20220,20300,20380,20460,20540,20620,20700,20780,20860,20920,21010,21180,21350,21610,22050,22220];
const lowRugGreen = [6215,8330,8590,10330,11540,11630,15050,16180,19650,19790,19880,20220,20300,20380,20460,20540,20620,20700,20780,20860,20940,21010,21100,21180,21350,21610,22220];
const lowRugOlive = [5380,5470,5555,6680,7070,7690,11940,13230,16630,17100,19320,19440,19530,19650,19760,19880,20050,20140,20400,20570,20660,20830,20900,20970,21040,21110,21180,21270,21530,21610,21790,21960,22050];
const highRugPurple = [35,100,165,230,295,360,425,490,555,590,765,900,1110,1720,2205,2655,2915,9775,15470,15660];
const highRugOlive = [35,100,165,230,295,360,425,490,555,590,815,900,1110,1720,2205,2915,9775];
const highRugBlue = [35,100,165,230,295,360,425,490,555,620,685,750,815,880,945,1040,1110,1250,1420,1500,1580,1660,1740,1860,2080,2160,2240,2330,2590,2915,4570,5100,5640,7480,7810,9775,11940,13020,13470,14250,14960,15470,15710,18180,18900,19810,20380,21910];
const highRugRed = [35,100,165,230,295,360,425,490,555,590,815,900,1110,1340,1720,2205,2915,6490,7550,7810,9775,10070];
const highRugGreen = [35,100,165,230,295,360,425,490,555,620,685,750,815,880,945,1010,1075,1140,1215,1980,4150,7810];
const metricCurve = [[0,7.6],[30,6.2],[260,4.3],[695,3],[1215,2.15],[1735,1.7],[2600,1.35],[5000,1.1],[10000,.65],[15000,.38],[17360,.16],[18920,0],[20000,-.37],[20830,-.7],[21530,-1.35],[21960,-2.15],[22220,-3.5],[22340,-5.6],[22395,-8.9]];
const rankTicks = [5000,10000,15000,20000];
const rankGrid = [2500,5000,7500,10000,12500,15000,17500,20000];
const lowNames = ['GOBP_RIBOSOMAL_LARGE_SUBUNIT_ASSEMBLY','GOCC_CYTOSOLIC_LARGE_RIBOSOMAL_SUBUNIT','GOCC_CYTOSOLIC_SMALL_RIBOSOMAL_SUBUNIT','GOCC_POLYSOMAL_RIBOSOME','GOCC_SMALL_RIBOSOMAL_SUBUNIT'];
const highNames = ['GOCC_IMMUNOGLOBULIN_COMPLEX','GOCC_IMMUNOGLOBULIN_COMPLEX_CIRCULATING','GOCC_T_CELL_RECEPTOR_COMPLEX','GOMF_ANTIGEN_BINDING','GOMF_IMMUNOGLOBULIN_RECEPTOR_BINDING'];

// ---------- helpers ----------
const RED = '#ee1c25', BLUE = '#3953a4', GRID = '#ececec', DARK = '#333333';
const gseaColors = ['#f55a52', '#a3a02c', '#1fb56c', '#2aa6e0', '#b65fb0'];
const SANS = '"Liberation Sans", Arial, sans-serif';
const SERIF = '"Liberation Serif", "Times New Roman", serif';
Chart.defaults.animation = false;
Chart.defaults.responsive = false;
Chart.defaults.events = [];
Chart.defaults.font.family = SANS;
Chart.defaults.color = '#1a1a1a';
Chart.defaults.plugins.legend.display = false;
Chart.defaults.plugins.tooltip.enabled = false;

function addText(text, x, y, o = {}) {
  const d = document.createElement('div');
  d.className = 't';
  d.textContent = text;
  d.style.left = x + 'px';
  d.style.top = y + 'px';
  d.style.fontSize = (o.size || 12) + 'px';
  d.style.fontFamily = o.font || SANS;
  if (o.weight) d.style.fontWeight = o.weight;
  if (o.color) d.style.color = o.color;
  const ax = o.align === 'left' ? '0' : '-50%';
  d.style.transform = `translate(${ax},-50%) rotate(${o.rotate || 0}deg)`;
  if (o.clip) { d.style.width = o.clip + 'px'; d.style.overflow = 'hidden'; }
  document.body.appendChild(d);
}
function addBox(x, y, w, h, css) {
  const d = document.createElement('div');
  d.className = 'box';
  Object.assign(d.style, { left: x + 'px', top: y + 'px', width: w + 'px', height: h + 'px' }, css);
  document.body.appendChild(d);
}
const framePlugin = {
  id: 'frame',
  afterDatasetsDraw(chart, args, opts) {
    if (!opts.color) return;
    const a = chart.chartArea, c = chart.ctx;
    c.save();
    c.strokeStyle = opts.color;
    c.lineWidth = opts.width || 1;
    c.strokeRect(a.left, a.top, a.right - a.left, a.bottom - a.top);
    c.restore();
  }
};
Chart.register(framePlugin);

// places a chart so its plot area lands on [left,top,right,bottom] of the page
function placeChart(plot, m, config) {
  const canvas = document.createElement('canvas');
  const w = plot[2] - plot[0], h = plot[3] - plot[1];
  canvas.width = Math.round(w + m.l + m.r);
  canvas.height = Math.round(h + m.t + m.b);
  canvas.style.left = (plot[0] - m.l) + 'px';
  canvas.style.top = (plot[1] - m.t) + 'px';
  document.body.appendChild(canvas);
  const o = config.options = config.options || {};
  o.layout = { autoPadding: false, padding: { top: m.t, right: m.r, left: 0, bottom: 0 } };
  if (m.rightAxis) { o.layout.padding = { top: m.t, left: m.l, right: 0, bottom: 0 }; }
  o.scales.x.afterFit = s => { s.height = m.b; s.paddingLeft = 0; s.paddingRight = 0; };
  o.scales.y.afterFit = s => { s.width = m.rightAxis ? m.r : m.l; s.paddingTop = 0; s.paddingBottom = 0; };
  return new Chart(canvas, config);
}
function fixedTicks(values) { return s => { s.ticks = values.map(v => ({ value: v })); }; }
const hiddenAxis = (min, max, extra = {}) => Object.assign({ type: 'linear', min, max, ticks: { display: false }, grid: { display: false, drawTicks: false }, border: { display: false } }, extra);
function xyPoints(list) { return list.map(p => ({ x: p[0], y: p[1] })); }

// ---------- A ----------
function columnBars(columns, color, order) {
  return { type: 'bar', data: columns.map(c => ({ x: c[0], y: [c[1], c[2]] })), backgroundColor: color, barThickness: 4, order };
}
function dotSet(list, color, order) {
  return { type: 'scatter', data: xyPoints(list), backgroundColor: color, borderWidth: 0, pointRadius: 4.4, order };
}
function cutLine(data) {
  return { type: 'scatter', data, showLine: true, borderColor: '#3f9fd6', borderWidth: 1.6, borderDash: [2, 3], pointRadius: 0, order: 0 };
}
placeChart([101.5, 63, 623, 568], { l: 70, r: 5, t: 5, b: 30 }, {
  data: { datasets: [
    cutLine([{ x: -9.06, y: fdrCutoff }, { x: 8.34, y: fdrCutoff }]),
    cutLine([{ x: foldCutoff, y: -.17 }, { x: foldCutoff, y: 6.75 }]),
    cutLine([{ x: -foldCutoff, y: -.17 }, { x: -foldCutoff, y: 6.75 }]),
    dotSet(volcanoDown, 'rgba(57,70,164,.68)', 1),
    dotSet(volcanoUp, 'rgba(238,28,37,.58)', 2),
    columnBars(volcanoUpColumns, '#ee1c25', 3),
    dotSet(volcanoNs, 'rgba(0,0,0,.6)', 4),
    columnBars(volcanoMassColumns, '#050505', 5)
  ] },
  options: {
    plugins: { frame: { color: DARK, width: 1.5 } },
    scales: {
      x: { type: 'linear', offset: false, min: -9.06, max: 8.34, afterBuildTicks: fixedTicks(volcanoXTicks),
        grid: { offset: false, color: '#e4e4e4', tickColor: DARK, tickLength: 5 }, border: { color: DARK, width: 2 },
        ticks: { autoSkip: false, maxRotation: 0, padding: 2, font: { size: 14 }, callback: v => String(v).replace('-', '−') } },
      y: { type: 'linear', min: -.17, max: 6.75, afterBuildTicks: fixedTicks(volcanoYTicks),
        grid: { color: '#e4e4e4', tickColor: DARK, tickLength: 5 }, border: { color: DARK, width: 2 },
        ticks: { autoSkip: false, padding: 2, font: { size: 14 }, callback: v => v.toFixed(1) } }
    }
  }
});
addText('log2(FoldChange)', 362, 601, { size: 15, font: SERIF });
addText('-log10(FDR)', 61, 302, { size: 15, font: SERIF, rotate: -90 });
addText('Regulated', 637, 73, { size: 15, font: SERIF, align: 'left' });
addBox(636, 87, 15, 15, { background: RED, borderRadius: '50%' });
addBox(636, 112, 15, 15, { background: BLUE, borderRadius: '50%' });
addText('Up-regulated', 656, 97, { size: 15, font: SERIF, align: 'left' });
addText('Down-regulated', 656, 121, { size: 15, font: SERIF, align: 'left' });

// ---------- B ----------
function heatColor(z) {
  if (z >= 3) return '#ee1c25';
  if (z >= 1) return '#f4868a';
  if (z >= 0) return '#fdeef0';
  if (z >= -1) return '#b0b0dc';
  if (z >= -2) return '#7075ba';
  return '#3c50a3';
}
const heatCells = heatRows.map(r => r.replace(/ /g, ''));
const heatColumnCount = heatLowCount + heatHighCount;
const heatDatasets = [];
for (let c = 0; c < heatColumnCount; c++) {
  heatDatasets.push({
    data: heatCells.map(() => 1),
    backgroundColor: heatCells.map(r => heatColor(heatLevels[r[c]] !== undefined ? heatLevels[r[c]] : -3)),
    borderColor: '#9a9a9a', borderWidth: .5, borderSkipped: false, barPercentage: 1, categoryPercentage: 1
  });
}
placeChart([885.3, 42.7, 1510.4, 597], { l: 0, r: 60, t: 1, b: 1, rightAxis: true }, {
  type: 'bar',
  data: { labels: heatGenes, datasets: heatDatasets },
  options: {
    indexAxis: 'y',
    scales: {
      x: hiddenAxis(0, heatColumnCount, { stacked: true }),
      y: { type: 'category', stacked: true, position: 'right', grid: { display: false, drawTicks: false }, border: { display: false },
        ticks: { autoSkip: false, padding: 3, font: { size: 6 }, color: '#222' } }
    }
  }
});
const typeDatasets = [];
for (let c = 0; c < heatColumnCount; c++) {
  typeDatasets.push({ data: [1], backgroundColor: c < heatLowCount ? '#46bfc8' : '#f08a86', borderColor: '#9a9a9a', borderWidth: .5, borderSkipped: false, barPercentage: 1, categoryPercentage: 1 });
}
placeChart([885.3, 29, 1510.4, 39.5], { l: 0, r: 0, t: 0, b: 0 }, {
  type: 'bar',
  data: { labels: ['Type'], datasets: typeDatasets },
  options: { indexAxis: 'y', scales: {
    x: hiddenAxis(0, heatColumnCount, { stacked: true }),
    y: { type: 'category', stacked: true, display: true, ticks: { display: false }, grid: { display: false, drawTicks: false }, border: { display: false } }
  } }
});
function dendroSegments(tree) {
  const out = [];
  let row = 0;
  const walk = node => {
    if (node === 0) { row += 1; return { h: 0, y: row - .5 }; }
    const a = walk(node[1]), b = walk(node[2]);
    out.push({ x: a.h, y: a.y }, { x: node[0], y: a.y }, { x: node[0], y: b.y }, { x: b.h, y: b.y }, { x: NaN, y: NaN });
    return { h: node[0], y: (a.y + b.y) / 2 };
  };
  walk(tree);
  return { points: out, rows: row };
}
const dendro = dendroSegments(dendroTree);
placeChart([824.5, 42.7, 885, 597], { l: 2, r: 0, t: 1, b: 1 }, {
  type: 'scatter',
  data: { datasets: [{ data: dendro.points, showLine: true, spanGaps: false, borderColor: '#222', borderWidth: .9, pointRadius: 0 }] },
  options: { scales: { x: hiddenAxis(0, 1, { reverse: true }), y: hiddenAxis(0, dendro.rows, { reverse: true }) } }
});
addText('Type', 1514, 35, { size: 8, weight: 'bold', align: 'left' });
addBox(1566, 28.5, 12, 173, { background: 'linear-gradient(to bottom,#ee1c25 0%,#ee1c25 42%,#f9b6b8 46%,#ffffff 50%,#a9a9d9 54%,#3c50a3 60%,#3c50a3 100%)' });
[['4', 51], ['2', 83], ['0', 115], ['−2', 147.5], ['−4', 180]].forEach(t => addText(t[0], 1583, t[1], { size: 8, align: 'left' }));
addText('Type', 1594, 32, { size: 8, weight: 'bold', align: 'left' });
addBox(1595, 39, 12, 13, { background: '#46bfc8', border: '.5px solid #9a9a9a', boxSizing: 'border-box' });
addBox(1595, 52, 12, 13, { background: '#f08a86', border: '.5px solid #9a9a9a', boxSizing: 'border-box' });
addText('ICD low', 1609, 45.5, { size: 9, align: 'left' });
addText('ICD high', 1609, 58.5, { size: 9, align: 'left' });

// ---------- C / E dot plots ----------
function qColor(q) {
  const stops = [[0, [238, 28, 37]], [.2, [232, 24, 90]], [.45, [212, 25, 127]], [.6, [196, 26, 130]], [.75, [127, 63, 152]], [1, [57, 83, 164]]];
  for (let i = 1; i < stops.length; i++) {
    if (q <= stops[i][0]) {
      const a = stops[i - 1], b = stops[i], t = (q - a[0]) / (b[0] - a[0]);
      const c = a[1].map((v, k) => Math.round(v + (b[1][k] - v) * t));
      return `rgb(${c[0]},${c[1]},${c[2]})`;
    }
  }
  return 'rgb(57,83,164)';
}
const goRadius = n => 3.4 + .65 * Math.sqrt(n);
const keggRadius = n => 1.2 + 1.48 * Math.sqrt(n);
function dotPlot(plot, terms, ratio, count, q, radius, xRange, xTicks, labelled, mb, ml, fontSize) {
  placeChart(plot, { l: ml, r: 2, t: 2, b: mb }, {
    type: 'scatter',
    data: { datasets: [{
      data: ratio.map((v, i) => ({ x: v, y: i + 1 })),
      backgroundColor: q.map(qColor), borderWidth: 0,
      pointRadius: count.map(radius),
      clip: false
    }] },
    options: {
      plugins: { frame: { color: '#4d4d4d', width: 1.4 } },
      scales: {
        x: { type: 'linear', min: xRange[0], max: xRange[1], afterBuildTicks: fixedTicks(xTicks),
          grid: { color: GRID, tickLength: 4, tickColor: ctx => ctx.tick && labelled.includes(ctx.tick.value) && mb > 5 ? '#333' : 'rgba(0,0,0,0)' },
          border: { display: false },
          ticks: { autoSkip: false, maxRotation: 0, padding: 2, font: { size: Math.min(fontSize, 14) }, display: mb > 5, callback: v => labelled.includes(v) ? v.toFixed(2) : '' } },
        y: { type: 'linear', reverse: true, min: .4, max: terms.length + .6, afterBuildTicks: fixedTicks(terms.map((_, i) => i + 1)),
          grid: { color: GRID, tickColor: '#333', tickLength: 4 }, border: { display: false },
          ticks: { autoSkip: false, padding: 2, callback: v => terms[v - 1],
            font: c => ({ size: c.tick && Array.isArray(terms[c.tick.value - 1]) ? 10.5 : fontSize }) } }
      }
    }
  });
}
const goRange = [.00698, .1441];
dotPlot([333, 692, 730, 906.4], goBpTerms, goBpRatio, goBpCount, goBpQ, goRadius, goRange, goXTicks, [], 2, 333, 13.5);
dotPlot([333, 913, 730, 1127], goCcTerms, goCcRatio, goCcCount, goCcQ, goRadius, goRange, goXTicks, [], 2, 333, 13.5);
dotPlot([333, 1133.6, 730, 1348], goMfTerms, goMfRatio, goMfCount, goMfQ, goRadius, goRange, goXTicks, [.05, .1], 22, 333, 13.5);
[[692, 906.4, 'BP'], [913, 1127, 'CC'], [1133.6, 1348, 'MF']].forEach(s => {
  addBox(730, s[0], 19, s[1] - s[0], { background: '#d9d9d9', border: '1.2px solid #4d4d4d', boxSizing: 'border-box' });
  addText(s[2], 739.5, (s[0] + s[1]) / 2, { size: 9, rotate: 90 });
});
addText('GeneRatio', 531, 1374, { size: 13 });
addText('Count', 767, 906, { size: 13, align: 'left' });
[[927], [946.5], [967], [990.5]].forEach((p, i) => {
  const r = goRadius(goCountLegend[i]) - .8;
  addBox(779 - r, p[0] - r, 2 * r, 2 * r, { background: '#000', borderRadius: '50%' });
  addText(String(goCountLegend[i]), 797.5, p[0], { size: 10, align: 'left', clip: 10 });
});
addText('qvalue', 767, 1033, { size: 13, align: 'left' });
addBox(767, 1043.6, 21, 97.4, { background: 'linear-gradient(to bottom,#3953a4 0%,#8a3b96 25%,#c41a82 50%,#e8175d 75%,#ee1c25 100%)' });
[['1.6e-03', 1047], ['1.2e-03', 1070], ['8.0e-04', 1093], ['4.0e-04', 1117]].forEach(t => addText(t[0], 793, t[1], { size: 10, align: 'left', clip: 14 }));

dotPlot([1230.4, 724.7, 1558, 1310.2], keggTerms, keggRatio, keggCount, keggQ, keggRadius, [.02437, .1682], keggXTicks, [.04, .08, .12, .16], 24, 430, 15.7);
addText('GeneRatio', 1394, 1341, { size: 14.5 });
addText('Count', 1579.6, 870.4, { size: 13.5, align: 'left' });
[895.6, 918, 941.6, 967, 995].forEach((y, i) => {
  const r = keggRadius(keggCountLegend[i]) - .4;
  addBox(1594.7 - r, y - r, 2 * r, 2 * r, { background: '#000', borderRadius: '50%' });
  addText(String(keggCountLegend[i]), 1615, y, { size: 12, align: 'left' });
});
addText('qvalue', 1579.6, 1045, { size: 13.5, align: 'left' });
addBox(1579.6, 1058.7, 23.4, 114, { background: 'linear-gradient(to bottom,#3953a4 0%,#7f3f98 25%,#c41a82 50%,#e8175d 75%,#ee1c25 100%)' });
[['4e−04', 1076], ['3e−04', 1100], ['2e−04', 1124], ['1e−04', 1148]].forEach(t => addText(t[0], 1609, t[1], { size: 11, align: 'left' }));

// ---------- D ----------
const ontologyColor = { BP: '#10aebc', CC: '#e5b71f', MF: '#9fd18a' };
const binColors = ['#f0f0f0', '#fee0d2', '#fcbba1', '#fc9272', '#fb6a4a', '#ed2024', '#bb2230', '#9a1a20'];
const sectorCx = 350.4, sectorCy = 1950, outerR = 280, trackR = 183, axisMax = 460;
const ringFill = (values, color) => ({ data: values.flatMap(v => [v, axisMax - v]), backgroundColor: values.flatMap((v, i) => [color(i), 'rgba(0,0,0,0)']), borderWidth: 0, hoverBorderWidth: 0 });
const spacerRing = weight => ({ data: [1], backgroundColor: 'rgba(0,0,0,0)', borderWidth: 0, weight });
const circleLabels = {
  id: 'circleLabels',
  afterDraw(chart) {
    const c = chart.ctx, cx = chart.width / 2, cy = chart.height / 2;
    const toRad = d => (d - 90) * Math.PI / 180;
    const place = (text, deg, r, rot, font, color) => {
      c.save();
      c.translate(cx + r * Math.cos(toRad(deg)), cy + r * Math.sin(toRad(deg)));
      c.rotate(rot * Math.PI / 180);
      c.font = font; c.fillStyle = color || '#1a1a1a';
      c.textAlign = 'center'; c.textBaseline = 'middle';
      c.fillText(text, 0, 0);
      c.restore();
    };
    circleTerms.forEach((term, i) => {
      const start = 10 + i * 20, mid = (start + 10) % 360;
      // outer axis: line and small ticks
      c.strokeStyle = '#222'; c.lineWidth = .8;
      c.beginPath(); c.arc(cx, cy, outerR + 1, toRad(start + .6), toRad(start + 19.4)); c.stroke();
      for (let v = 0; v <= 440; v += 20) {
        const a = toRad(start + .6 + v / axisMax * 19.4), len = v % 100 === 0 ? 4 : 2;
        c.beginPath();
        c.moveTo(cx + (outerR + 1) * Math.cos(a), cy + (outerR + 1) * Math.sin(a));
        c.lineTo(cx + (outerR + 1 + len) * Math.cos(a), cy + (outerR + 1 + len) * Math.sin(a));
        c.stroke();
      }
      circleAxisTicks.forEach(v => {
        const d = (start + .6 + v / axisMax * 19.4) % 360;
        place(String(v), d, outerR + 14, d <= 180 ? d - 90 : d + 90, '7px ' + SANS, '#222');
      });
      const flip = mid > 90 && mid < 270;
      place(term, mid, 269, flip ? mid - 180 : mid, '11px ' + SANS, '#222');
      const gDeg = (start + circleGenes[i] / axisMax * 10 + 1) % 360;
      place(String(circleGenes[i]), gDeg, 233.5, gDeg, '11px ' + SANS);
      const sDeg = (start + circleSelect[i] / axisMax * 20 + 1.5) % 360;
      place(String(circleSelect[i]), sDeg, 203.5, sDeg, '11px ' + SANS);
    });
  }
};
const dCanvas = document.createElement('canvas');
dCanvas.width = 680; dCanvas.height = 680;
dCanvas.style.left = (sectorCx - 340) + 'px';
dCanvas.style.top = (sectorCy - 340) + 'px';
document.body.appendChild(dCanvas);
new Chart(dCanvas, {
  type: 'doughnut',
  data: { datasets: [
    { data: circleTerms.map(() => 1), backgroundColor: circleOntology.map(o => ontologyColor[o]), borderColor: '#fff', borderWidth: 6, weight: 22 },
    spacerRing(10.6),
    Object.assign(ringFill(circleGenes, i => binColors[circlePBin[i]]), { weight: 27.6 }),
    spacerRing(6.5),
    Object.assign(ringFill(circleSelect, () => '#a45ab0'), { weight: 19.5 }),
    spacerRing(10.9)
  ] },
  options: { radius: outerR, rotation: 10, cutout: (trackR / outerR * 100) + '%', hoverOffset: 0, layout: { padding: 0 } },
  plugins: [circleLabels]
});
// inner tracks: polar areas painted from the largest ring inwards
const innerRing = (value, color, border) => ({ data: circleTerms.map(() => value), backgroundColor: color, borderColor: '#fff', borderWidth: border });
const rCanvas = document.createElement('canvas');
rCanvas.width = 386; rCanvas.height = 386;
rCanvas.style.left = (sectorCx - 193) + 'px';
rCanvas.style.top = (sectorCy - 193) + 'px';
document.body.appendChild(rCanvas);
new Chart(rCanvas, {
  type: 'polarArea',
  data: { labels: circleTerms, datasets: [
    innerRing(86, '#ffffff', 0),
    innerRing(90, '#d6d6d6', 0),
    { data: circleRich.map(v => 90 + v * 93), backgroundColor: circleOntology.map(o => ontologyColor[o]), borderColor: '#fff', borderWidth: 2.5 },
    innerRing(108.6, '#e6e6e6', 2),
    innerRing(127.2, '#e6e6e6', 2),
    innerRing(145.8, '#e6e6e6', 2),
    innerRing(164.4, '#e6e6e6', 2),
    innerRing(183, '#e6e6e6', 3.5)
  ] },
  options: { layout: { padding: 0 }, scales: { r: { display: false, min: 0, max: 193, startAngle: 10, beginAtZero: true } } }
});
addBox(295, 1935, 8, 8, { background: '#f7b6cf' });
addBox(295, 1947, 8, 8, { background: '#a45ab0' });
addBox(295, 1958.5, 0, 0, { borderLeft: '4.5px solid transparent', borderRight: '4.5px solid transparent', borderBottom: '8px solid #10aebc' });
addText('Number of Genes', 308.6, 1938.6, { size: 11, align: 'left' });
addText('Number of Select', 308.6, 1950.6, { size: 11, align: 'left' });
addText('Rich Factor(0−1)', 308.6, 1962.6, { size: 11, align: 'left' });
addText('ONTOLOGY', 727, 1814, { size: 11.5, weight: 'bold' });
[['Biological Process', '#10aebc', 1831.5], ['Cellular Component', '#e5b71f', 1846], ['Molecular Function', '#9fd18a', 1861.5]].forEach(l => {
  addBox(672, l[2] - 7, 13, 14, { background: '#e8e8e8' });
  addBox(675, l[2] - 3.5, 7, 7, { background: l[1] });
  addText(l[0], 689, l[2], { size: 11.5, align: 'left' });
});
addText('−log10(Pvalue)', 659, 1885, { size: 11, weight: 'bold', align: 'left' });
[1902.5, 1918, 1932.6, 1948, 1962.6, 1977.4, 1992.7, 2008].forEach((y, i) => {
  addBox(672, y - 7.5, 13, 15, { background: '#ececec' });
  addBox(675.5, y - 3.5, 7, 7, { background: binColors[i], borderRadius: '50%' });
  addText(pBinLabels[i], 689, y, { size: 11, align: 'left' });
});

// ---------- F / G ----------
function gseaLines(series) {
  return series.map((s, i) => ({ data: xyPoints(s), showLine: true, borderColor: gseaColors[i], borderWidth: 2, pointRadius: 0, tension: 0, order: series.length - i }));
}
const rankX = (showTicks, extra = {}) => Object.assign({
  type: 'linear', min: 0, max: 22395, afterBuildTicks: fixedTicks(rankGrid),
  grid: { color: '#eeeeee', drawTicks: showTicks, tickLength: 2, tickColor: '#444' }, border: { display: false },
  ticks: { display: showTicks, autoSkip: false, maxRotation: 0, padding: 3, font: { size: 6 }, color: '#555', callback: v => rankTicks.includes(v) ? String(v) : '' }
}, extra);
const leftAxis = (min, max, ticks, fmt) => ({
  type: 'linear', min, max, afterBuildTicks: fixedTicks(ticks),
  grid: { display: false, drawTicks: true, tickLength: 2, tickColor: '#444' },
  border: { display: true, color: '#333', width: 1.4 },
  ticks: { autoSkip: false, padding: 2, font: { size: 6 }, color: '#555', callback: fmt }
});
function gseaPanel(left, right, t, series, rugs, yRange, yTicks, fmt, title, names, legendX) {
  placeChart([left, t.top, right, t.mid], { l: 25, r: 3, t: 2, b: 1 }, {
    type: 'scatter',
    data: { datasets: gseaLines(series) },
    options: { scales: { x: rankX(false), y: leftAxis(yRange[0], yRange[1], yTicks, fmt) } }
  });
  placeChart([left, t.rugTop, right, t.rugBottom], { l: 25, r: 3, t: 0, b: 0 }, {
    type: 'scatter',
    data: { datasets: rugs.map((r, i) => ({
      data: r.x.map(x => ({ x, y: i + 1 })), pointStyle: 'line', rotation: 90, radius: (t.rugBottom - t.rugTop) / 10,
      borderColor: r.color, backgroundColor: r.color, borderWidth: 1.6
    })) },
    options: { scales: {
      x: hiddenAxis(0, 22395),
      y: { type: 'linear', reverse: true, min: .5, max: 5.5, ticks: { display: false }, grid: { display: false, drawTicks: false }, border: { display: true, color: '#333', width: 1.4 } }
    } }
  });
  placeChart([left, t.metricTop, right, t.metricBottom], { l: 25, r: 3, t: 0, b: 12 }, {
    type: 'scatter',
    data: { datasets: [{ data: xyPoints(metricCurve), showLine: true, fill: 'origin', borderColor: '#bdbdbd', backgroundColor: '#b8b8b8', borderWidth: .5, pointRadius: 0 }] },
    options: { plugins: {}, scales: {
      x: rankX(true, { border: { display: true, color: '#333', width: 1.6 } }),
      y: leftAxis(-9.5, 8.76, [-5, 0, 5], v => String(v).replace('-', '−'))
    } }
  });
  addText(title, left, t.title, { size: 10, align: 'left', color: '#333' });
  addText('Running Enrichment Score', 1048, t.runLabel, { size: 8.5, rotate: -90, color: '#333' });
  addText('Ranked List Metric', 1048, t.metricLabel, { size: 8.5, rotate: -90, color: '#333' });
  addText('Rank in Ordered Dataset', 1301.8, t.rank, { size: 8.5, color: '#333' });
  names.forEach((n, i) => {
    addBox(legendX, t.legend[i] - 1, 13.5, 2, { background: gseaColors[i] });
    addText(n, legendX + 20, t.legend[i], { size: 6, align: 'left', color: '#333' });
  });
}
gseaPanel(1071.4, 1532,
  { top: 1460, mid: 1630, rugTop: 1631.7, rugBottom: 1688.3, metricTop: 1690.7, metricBottom: 1804, title: 1450, runLabel: 1545, metricLabel: 1747, rank: 1818, legend: [1460.7, 1478.7, 1496.3, 1513.7, 1530.7] },
  [lowRed, lowOlive, lowGreen, lowBlue, lowPurple],
  [{ x: lowRugRed, color: gseaColors[0] }, { x: lowRugBlue, color: gseaColors[3] }, { x: lowRugPurple, color: gseaColors[4] }, { x: lowRugGreen, color: gseaColors[2] }, { x: lowRugOlive, color: gseaColors[1] }],
  [-.708, .055], [-.6, -.4, -.2, 0], v => v === 0 ? '0.0' : '−' + Math.abs(v).toFixed(1),
  'Enriched in ICD low group', lowNames, 1356);
gseaPanel(1070.7, 1532,
  { top: 1971, mid: 2141.7, rugTop: 2143.3, rugBottom: 2200, metricTop: 2201.7, metricBottom: 2315, title: 1961, runLabel: 2056, metricLabel: 2258, rank: 2329.3, legend: [1972, 1989.7, 2007, 2024.3, 2041.7] },
  [highRed, highOlive, highGreen, highBlue, highPurple],
  [{ x: highRugPurple, color: gseaColors[4] }, { x: highRugOlive, color: gseaColors[1] }, { x: highRugBlue, color: gseaColors[3] }, { x: highRugRed, color: gseaColors[0] }, { x: highRugGreen, color: gseaColors[2] }],
  [-.051, .985], [0, .25, .5, .75], v => v.toFixed(2),
  'Enriched in ICD high group', highNames, 1353.5);

// ---------- panel letters ----------
[['A', 16, 16], ['B', 812, 15], ['C', 17.5, 660], ['D', 17, 1499], ['E', 1003, 694], ['F', 1003, 1398], ['G', 1003, 1906]].forEach(l => addText(l[0], l[1], l[2], { size: 27, weight: 'bold', color: '#000' }));
</script>
</body>
</html>
